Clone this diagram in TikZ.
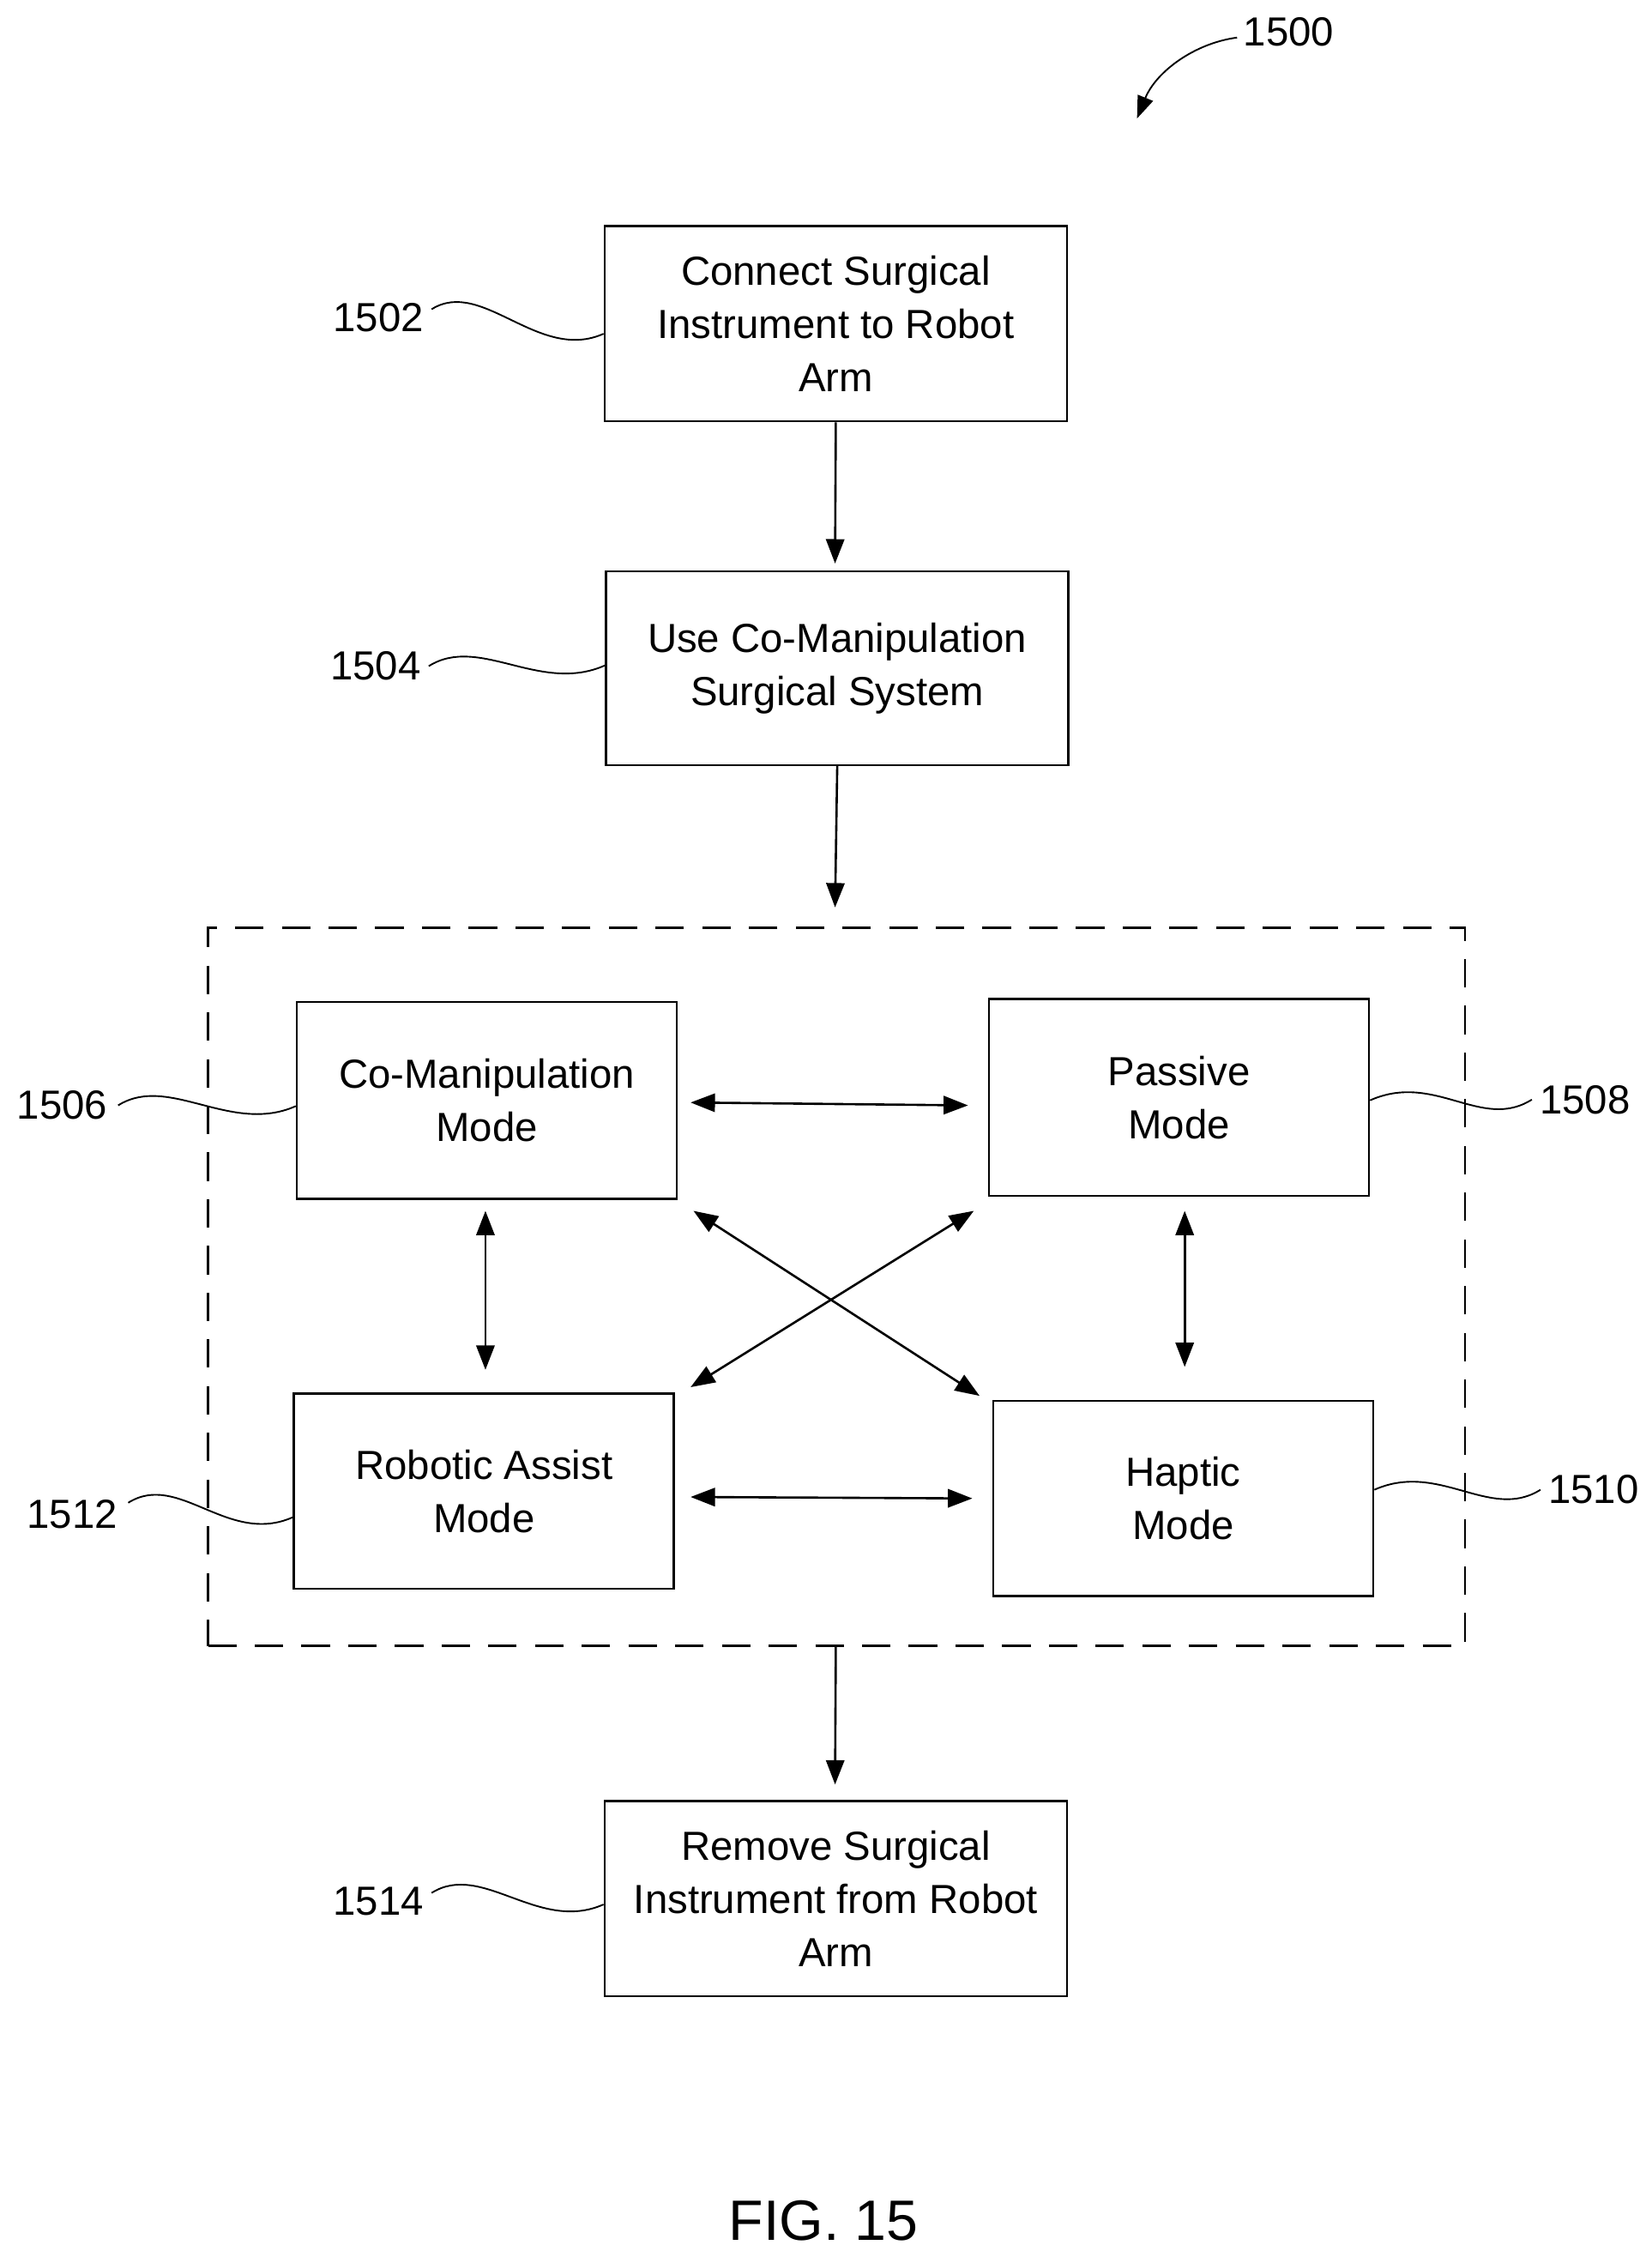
\documentclass[tikz,border=0pt]{standalone}
\usepackage{fontspec}
\setmainfont{Liberation Sans}
\usetikzlibrary{arrows.meta,calc}
\begin{document}
\begin{tikzpicture}[x=0.05cm,y=-0.05cm,
  box/.style={draw,line width=2.2pt,align=center,inner sep=0pt,font=\fontsize{40}{52}\selectfont},
  lbl/.style={font=\fontsize{40}{46}\selectfont},
  arr/.style={line width=2.2pt,-{Triangle[length=24pt,width=18pt]}},
  darr/.style={line width=2.2pt,{Triangle[length=24pt,width=18pt]}-{Triangle[length=24pt,width=18pt]}},
  lead/.style={line width=1.6pt}]
\useasboundingbox (0,0) rectangle (1143,1562);
\node[box,minimum width=320*0.05cm,minimum height=135*0.05cm] (b1502) at (578.5,224) {Connect Surgical\\Instrument to Robot\\Arm};
\node[box,minimum width=320*0.05cm,minimum height=134*0.05cm] (b1504) at (579.5,462.5) {Use Co-Manipulation\\Surgical System};
\node[draw,dashed,dash pattern=on 28pt off 18pt,line width=2.2pt,minimum width=870*0.05cm,minimum height=497*0.05cm,inner sep=0pt] (dash) at (579,890.5) {};
\node[box,minimum width=263*0.05cm,minimum height=136*0.05cm] (b1506) at (337,761.5) {Co-Manipulation\\Mode};
\node[box,minimum width=263*0.05cm,minimum height=136*0.05cm] (b1508) at (816,759.5) {Passive\\Mode};
\node[box,minimum width=263*0.05cm,minimum height=135*0.05cm] (b1512) at (335,1032) {Robotic Assist\\Mode};
\node[box,minimum width=263*0.05cm,minimum height=135*0.05cm] (b1510) at (819,1037) {Haptic\\Mode};
\node[box,minimum width=320*0.05cm,minimum height=135*0.05cm] (b1514) at (578.5,1314) {Remove Surgical\\Instrument from Robot\\Arm};
\coordinate (a1) at (578,390); \coordinate (a2) at (578,628); \coordinate (a3) at (578,1235);
\draw[arr] (b1502.south) -- (a1);
\draw[arr] (b1504.south) -- (a2);
\draw[arr] (dash.south -| b1514.north) -- (a3);
\coordinate (h1) at (478,763); \coordinate (h2) at (670,765);
\draw[darr] (h1) -- (h2);
\coordinate (h3) at (478,1036); \coordinate (h4) at (673,1037);
\draw[darr] (h3) -- (h4);
\coordinate (v1) at (336,838); \coordinate (v2) at (336,948);
\draw[darr] (v1) -- (v2);
\coordinate (v3) at (820,838); \coordinate (v4) at (820,946);
\draw[darr] (v3) -- (v4);
\coordinate (d1) at (480,838); \coordinate (d2) at (678,966);
\draw[darr] (d1) -- (d2);
\coordinate (d3) at (674,838); \coordinate (d4) at (478,960);
\draw[darr] (d3) -- (d4);
% labels
\node[lbl] (l1502) at (262,220) {1502};
\node[lbl] (l1504) at (260,461) {1504};
\node[lbl] (l1506) at (43,765) {1506};
\node[lbl] (l1508) at (1097,761) {1508};
\node[lbl] (l1510) at (1103,1031) {1510};
\node[lbl] (l1512) at (50,1048) {1512};
\node[lbl] (l1514) at (262,1316) {1514};
\node[lbl] (l1500) at (892,22) {1500};
\draw[lead] ($(l1502.east)+(3,-6)$) .. controls +(35,-22) and +(-45,20) .. ($(b1502.west)+(0,7)$);
\draw[lead] ($(l1504.east)+(3,0)$) .. controls +(35,-22) and +(-45,20) .. ($(b1504.west)+(0,-2)$);
\draw[lead] ($(l1506.east)+(5,0)$) .. controls +(35,-22) and +(-45,20) .. ($(b1506.west)+(0,4)$);
\draw[lead] ($(b1508.east)+(0,2)$) .. controls +(45,-20) and +(-35,22) .. ($(l1508.west)+(-3,0)$);
\draw[lead] ($(b1510.east)+(0,-6)$) .. controls +(45,-20) and +(-35,22) .. ($(l1510.west)+(-3,0)$);
\draw[lead] ($(l1512.east)+(5,-8)$) .. controls +(35,-22) and +(-45,20) .. ($(b1512.west)+(0,18)$);
\draw[lead] ($(l1514.east)+(3,-6)$) .. controls +(35,-22) and +(-45,20) .. ($(b1514.west)+(0,4)$);
\coordinate (t1500) at (787,82);
\draw[lead,-{Triangle[length=22pt,width=16pt]}] ($(l1500.west)+(-2,4)$) .. controls +(-30,4) and +(13,-32) .. (t1500);
\node[font=\fontsize{56}{62}\selectfont] (fig) at (570,1537) {FIG. 15};
\end{tikzpicture}
\end{document}
